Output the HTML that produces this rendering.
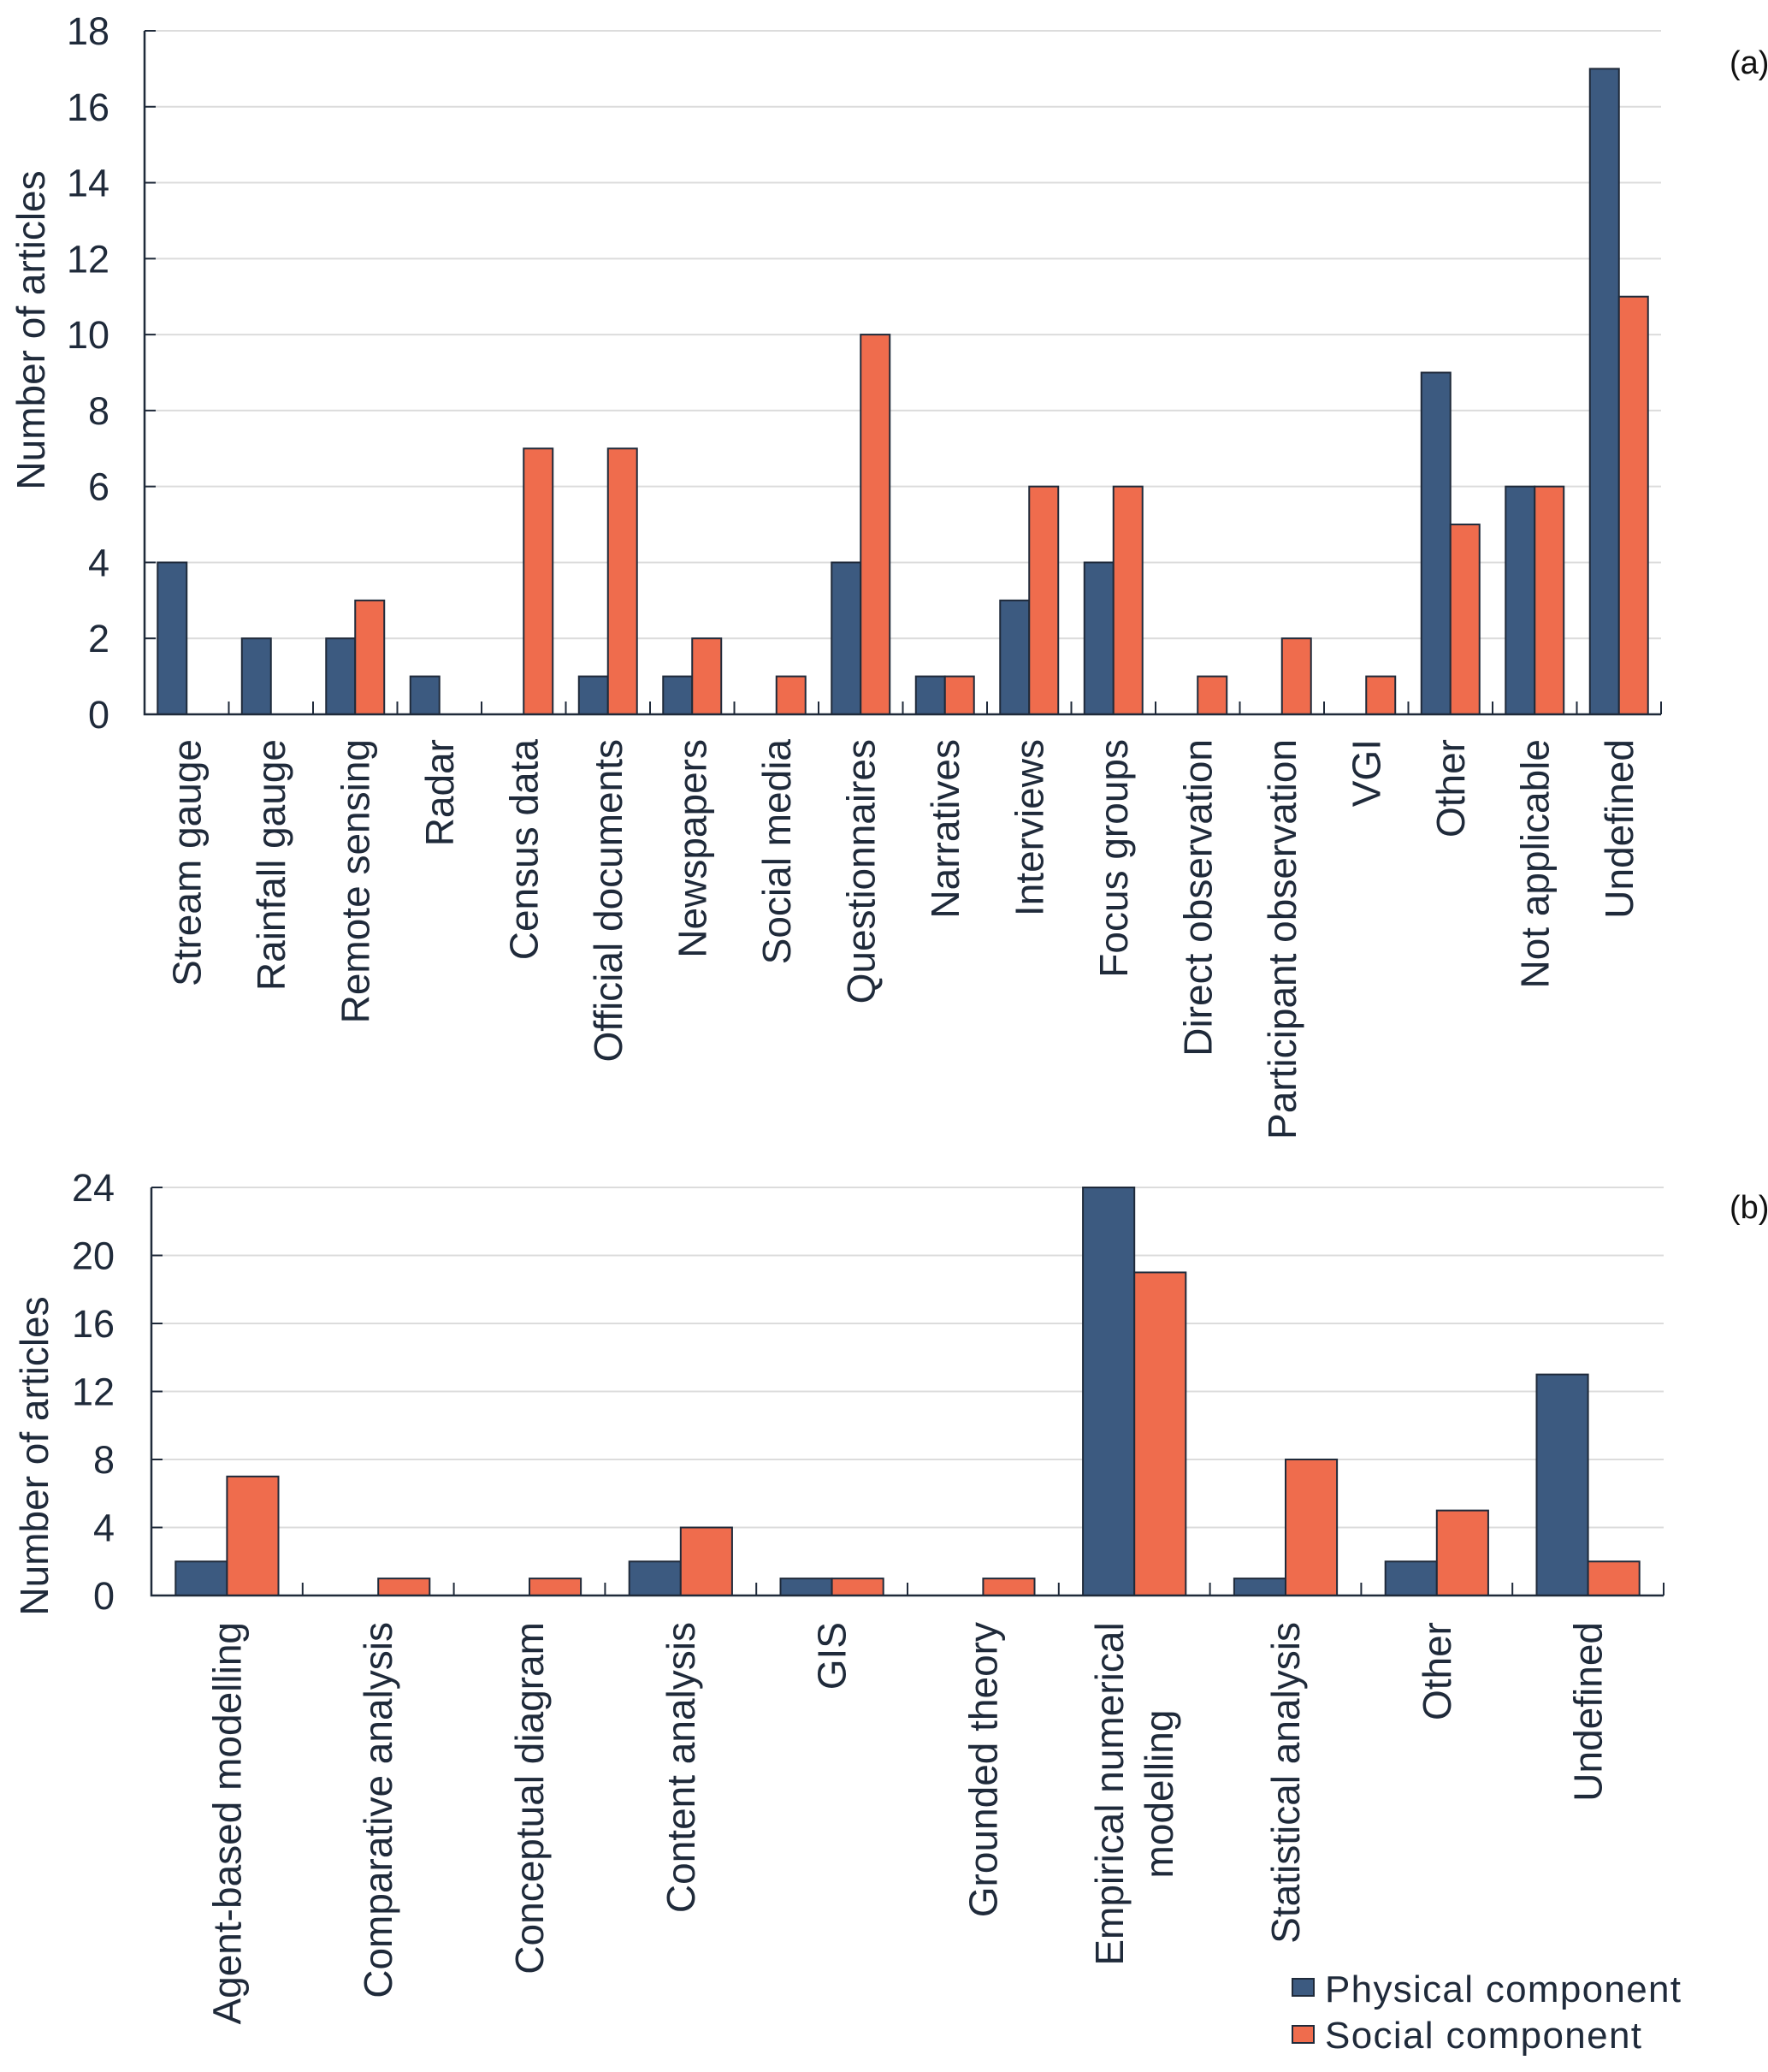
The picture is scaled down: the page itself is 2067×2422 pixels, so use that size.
<!DOCTYPE html>
<html><head><meta charset="utf-8">
<style>
html,body{margin:0;padding:0;background:#fff;}
svg{display:block;font-family:"Liberation Sans",Arial,sans-serif;}
</style></head>
<body>
<svg id="chart" width="2067" height="2422" viewBox="0 0 2067 2422" xmlns="http://www.w3.org/2000/svg">
<text x="2022" y="86" font-size="38" fill="#111">(a)</text>
<text x="2022" y="1424" font-size="38" fill="#111">(b)</text>
<text transform="translate(52,386) rotate(-90)" text-anchor="middle" font-size="46" fill="#1f2a3a">Number of articles</text>
<text transform="translate(56,1702) rotate(-90)" text-anchor="middle" font-size="46" fill="#1f2a3a">Number of articles</text>
<g>
<rect x="1511" y="2313" width="25" height="20" fill="#3c5a80" stroke="#1f2a3a" stroke-width="2"/>
<text x="1549" y="2340" font-size="44" fill="#1f2a3a" textLength="416">Physical component</text>
<rect x="1511" y="2368" width="25" height="20" fill="#ef6c4d" stroke="#1f2a3a" stroke-width="2"/>
<text x="1549" y="2394" font-size="44" fill="#1f2a3a" textLength="370">Social component</text>
</g>
</svg>
<script>
const catsA = ["Stream gauge","Rainfall gauge","Remote sensing","Radar","Census data","Official documents","Newspapers","Social media","Questionnaires","Narratives","Interviews","Focus groups","Direct observation","Participant observation","VGI","Other","Not applicable","Undefined"];
const physA = [4,2,2,1,0,1,1,0,4,1,3,4,0,0,0,9,6,17];
const socA  = [0,0,3,0,7,7,2,1,10,1,6,6,1,2,1,5,6,11];
const ticksA = [0,2,4,6,8,10,12,14,16,18];

const catsB = [["Agent-based modelling"],["Comparative analysis"],["Conceptual diagram"],["Content analysis"],["GIS"],["Grounded theory"],["Empirical numerical","modelling"],["Statistical analysis"],["Other"],["Undefined"]];
const physB = [2,0,0,2,1,0,24,1,2,13];
const socB  = [7,1,1,4,1,1,19,8,5,2];
const ticksB = [0,4,8,12,16,20,24];

const NS="http://www.w3.org/2000/svg";
const svg=document.getElementById('chart');
function mk(tag,attrs,parent){const e=document.createElementNS(NS,tag);for(const k in attrs)e.setAttribute(k,attrs[k]);(parent||svg).appendChild(e);return e;}

function panel(cfg){
  const {id,x0,x1,y0,yTop,max,cats,phys,soc,ticks,tickLabelX,barFrac,labelTop}=cfg;
  const g=mk('g',{});
  
  
  const yS=v=>y0-(v/max)*(y0-yTop);
  const n=cats.length, cw=(x1-x0)/n;
  ticks.forEach(t=>{
    const y=yS(t);
    if(t>0){const gl=mk('line',{x1:x0,x2:x1,y1:y,y2:y,stroke:'#dcdcdc','stroke-width':2},g);
      
      }
    const tk=mk('line',{x1:x0,x2:x0+13,y1:y,y2:y,stroke:'#1f2a3a','stroke-width':2},g);
    
    
    const tl=mk('text',{x:tickLabelX,y:y+16,'text-anchor':'end','font-size':45,fill:'#1f2a3a'},g);
    tl.textContent=t;
    
    
  });
  const bw=cw*barFrac;
  cats.forEach((c,i)=>{
    const cx=x0+cw*(i+0.5);
    [[phys[i],'#3c5a80',cx-bw,'physical'],[soc[i],'#ef6c4d',cx,'social']].forEach(([v,col,bx,s])=>{
      if(v<=0)return;
      const r=mk('rect',{x:bx,y:yS(v),width:bw,height:y0-yS(v),fill:col,stroke:'#1f2a3a','stroke-width':2},g);
      
      
    });
    if(i>0){const t=mk('line',{x1:x0+cw*i,x2:x0+cw*i,y1:y0,y2:y0-15,stroke:'#1f2a3a','stroke-width':2},g);
      
      }
    const lines=Array.isArray(c)?c:[c];
    if(lines.length===1){
      const t=mk('text',{transform:`translate(${cx+16},${labelTop}) rotate(-90)`,'text-anchor':'end','font-size':46,fill:'#1f2a3a'},g);
      t.textContent=lines[0];
      
      
    } else {
      lines.forEach((ln,j)=>{
        const t=mk('text',{transform:`translate(${cx-13+j*58},${labelTop+201}) rotate(-90)`,'text-anchor':'middle','font-size':46,fill:'#1f2a3a'},g);
        t.textContent=ln;
        
        
      });
    }
  });
  const last=mk('line',{x1:x1,x2:x1,y1:y0,y2:y0-15,stroke:'#1f2a3a','stroke-width':2},g);
  
  
  const ax=mk('path',{d:`M${x0},${yTop} V${y0} H${x1}`,fill:'none',stroke:'#1f2a3a','stroke-width':2.5},g);
  
  
}
panel({id:'a',x0:169,x1:1942,y0:835,yTop:36,max:18,cats:catsA,phys:physA,soc:socA,ticks:ticksA,tickLabelX:128,barFrac:0.345,labelTop:864});
panel({id:'b',x0:177,x1:1945,y0:1865,yTop:1388,max:24,cats:catsB,phys:physB,soc:socB,ticks:ticksB,tickLabelX:134,barFrac:0.34,labelTop:1896});
</script>
</body></html>
